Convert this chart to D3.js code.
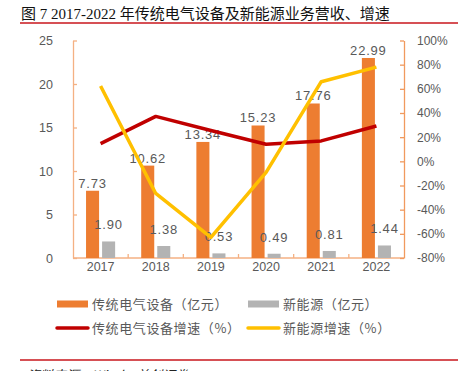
<!DOCTYPE html>
<html>
<head>
<meta charset="utf-8">
<script src="https://cdn.jsdelivr.net/npm/d3@7"></script>
<style>
  body { margin: 0; background: #fff; }
  svg { display: block; }
  text { font-family: "Liberation Sans", Arial, "Noto Sans CJK SC", sans-serif; }
</style>
</head>
<body>
<div class="svg-container"></div>
<script>
// chart data
var years = ["2017", "2018", "2019", "2020", "2021", "2022"];
var tradRevenue = [7.73, 10.62, 13.34, 15.23, 17.76, 22.99];   // 传统电气设备（亿元）
var newRevenue = [1.90, 1.38, 0.53, 0.49, 0.81, 1.44];        // 新能源（亿元）
var tradGrowth = [14.7, 37.2, 25.5, 14.1, 16.9, 29.2];        // 传统电气设备增速（%）
var newGrowth = [62.3, -26.6, -62.9, -9.2, 65.9, 78.0];       // 新能源增速（%）
var leftTicks = [0, 5, 10, 15, 20, 25];
var rightTicks = [-80, -60, -40, -20, 0, 20, 40, 60, 80, 100];

var pageWidth = 458,
    pageHeight = 371;

var margin = { top: 40.5, left: 73, right: 54, bottom: 113 };
var width = pageWidth - margin.left - margin.right,
    height = pageHeight - margin.top - margin.bottom;

var orange = "#ED7D31", grey = "#B3B3B3", red = "#C00000", yellow = "#FFC000";
var axisLight = "#F4B183", axisRight = "#F19A5E", textGrey = "#595959";

function plot() {
  var svg = d3.select(".svg-container").append("svg")
    .attr("width", pageWidth)
    .attr("height", pageHeight);

  // title and rules
  svg.append("text")
    .attr("x", 21)
    .attr("y", 19)
    .attr("font-size", 15)
    .attr("fill", "#111")
    .style("font-family", "'Liberation Serif', 'Noto Sans CJK SC', serif")
    .text("图 7 2017-2022 年传统电气设备及新能源业务营收、增速");

  svg.append("line").attr("x1", 20).attr("x2", 458).attr("y1", 23).attr("y2", 23)
    .attr("stroke", "#C8161D").attr("stroke-width", 1.5);
  svg.append("line").attr("x1", 20).attr("x2", 458).attr("y1", 360).attr("y2", 360)
    .attr("stroke", "#C8161D").attr("stroke-width", 1.5);

  svg.append("text")
    .attr("x", 27)
    .attr("y", 380)
    .attr("font-size", 13)
    .attr("fill", "#222")
    .style("font-family", "'Noto Sans CJK SC', sans-serif")
    .style("font-style", "italic")
    .text("资料来源：Wind，首创证券");

  var g = svg.append("g")
    .attr("transform", "translate(" + margin.left + "," + margin.top + ")");

  var x0 = d3.scaleBand().domain(years).range([0, width]);
  var x1 = d3.scaleBand().domain(["trad", "new"]).range([0, x0.bandwidth()])
    .paddingInner(0.1875).paddingOuter(0.8125);
  var yLeft = d3.scaleLinear().domain([0, 25]).range([height, 0]);
  var yRight = d3.scaleLinear().domain([-80, 100]).range([height, 0]);

  drawAxes(g, x0, yLeft, yRight);

  // bars
  var bars = [
    { key: "trad", values: tradRevenue, color: orange, lift: 1 },
    { key: "new", values: newRevenue, color: grey, lift: 10 }
  ];

  bars.forEach(function(s) {
    g.selectAll(".bar-" + s.key).data(s.values)
      .enter().append("rect")
      .attr("class", "bar-" + s.key)
      .attr("x", function(d, i) { return x0(years[i]) + x1(s.key); })
      .attr("width", x1.bandwidth())
      .attr("y", function(d) { return yLeft(d); })
      .attr("height", function(d) { return height - yLeft(d); })
      .attr("fill", s.color);

    g.selectAll(".lbl-" + s.key).data(s.values)
      .enter().append("text")
      .attr("class", "lbl-" + s.key)
      .attr("x", function(d, i) { return x0(years[i]) + x1(s.key) + x1.bandwidth() / 2; })
      .attr("y", function(d) { return yLeft(d) - s.lift - 2; })
      .attr("text-anchor", "middle")
      .attr("font-size", 13)
      .attr("letter-spacing", 0.8)
      .attr("fill", textGrey)
      .text(function(d) { return d.toFixed(2); });
  });

  // growth lines
  var line = d3.line()
    .x(function(d, i) { return x0(years[i]) + x0.bandwidth() / 2; })
    .y(function(d) { return yRight(d); });

  g.append("path").datum(tradGrowth)
    .attr("fill", "none").attr("stroke", red).attr("stroke-width", 3.5)
    .attr("stroke-linejoin", "round")
    .attr("d", line);

  g.append("path").datum(newGrowth)
    .attr("fill", "none").attr("stroke", yellow).attr("stroke-width", 3.5)
    .attr("stroke-linejoin", "round")
    .attr("d", line);

  drawLegend(svg);
}

function drawAxes(g, x0, yLeft, yRight) {
  var xAxis = g.append("g")
    .attr("transform", "translate(0," + height + ")")
    .call(d3.axisBottom(x0).tickSize(0).tickPadding(4));
  xAxis.select(".domain").remove();
  xAxis.selectAll("text").attr("font-size", 12.5).attr("fill", textGrey);

  // x axis line with category boundary ticks
  g.append("line").attr("x1", 0).attr("x2", width).attr("y1", height).attr("y2", height)
    .attr("stroke", axisLight).attr("stroke-width", 1.3);
  g.selectAll(".xtick").data(years.slice(1))
    .enter().append("line")
    .attr("class", "xtick")
    .attr("x1", function(d) { return x0(d); })
    .attr("x2", function(d) { return x0(d); })
    .attr("y1", height).attr("y2", height - 4)
    .attr("stroke", axisLight).attr("stroke-width", 1.3);

  var left = g.append("g")
    .call(d3.axisLeft(yLeft).tickValues(leftTicks).tickSizeInner(-4).tickSizeOuter(0).tickPadding(20));
  left.select(".domain").attr("stroke", axisLight).attr("stroke-width", 1.3);
  left.selectAll(".tick line").attr("stroke", axisLight).attr("stroke-width", 1.3);
  left.selectAll("text").attr("font-size", 12.5).attr("fill", textGrey);

  var right = g.append("g")
    .attr("transform", "translate(" + width + ",0)")
    .call(d3.axisRight(yRight).tickValues(rightTicks).tickSizeInner(-4).tickSizeOuter(0)
      .tickPadding(13).tickFormat(function(d) { return d + "%"; }));
  right.select(".domain").attr("stroke", axisRight).attr("stroke-width", 1.3);
  right.selectAll(".tick line").attr("stroke", axisRight).attr("stroke-width", 1.3);
  right.selectAll("text").attr("font-size", 12).attr("fill", textGrey);
}

function drawLegend(svg) {
  var items = [
    { label: "传统电气设备（亿元）", color: orange, type: "rect", x: 57, y: 304 },
    { label: "新能源（亿元）", color: grey, type: "rect", x: 248, y: 304 },
    { label: "传统电气设备增速（%）", color: red, type: "line", x: 57, y: 328 },
    { label: "新能源增速（%）", color: yellow, type: "line", x: 248, y: 328 }
  ];

  items.forEach(function(it) {
    if (it.type == "rect") {
      svg.append("rect").attr("x", it.x).attr("y", it.y - 3.5)
        .attr("width", 31).attr("height", 7).attr("fill", it.color);
    } else {
      svg.append("line").attr("x1", it.x).attr("x2", it.x + 31)
        .attr("y1", it.y).attr("y2", it.y)
        .attr("stroke", it.color).attr("stroke-width", 3.5).attr("stroke-linecap", "round");
    }
    svg.append("text")
      .attr("x", it.x + 35)
      .attr("y", it.y + 4.5)
      .attr("font-size", 13)
      .attr("letter-spacing", 0.6)
      .attr("fill", textGrey)
      .style("font-family", "'Noto Sans CJK SC', sans-serif")
      .text(it.label);
  });
}

plot();
</script>
</body>
</html>
